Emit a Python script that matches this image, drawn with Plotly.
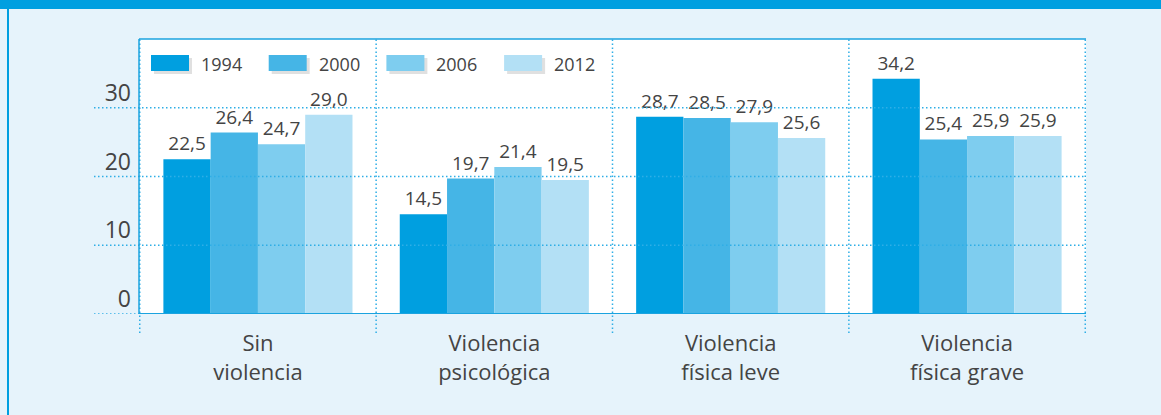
import plotly.graph_objects as go

categories = ["Sin<br>violencia", "Violencia<br>psicológica", "Violencia<br>física leve", "Violencia<br>física grave"]
years = ["1994", "2000", "2006", "2012"]
v1994 = [22.5, 14.5, 28.7, 34.2]
v2000 = [26.4, 19.7, 28.5, 25.4]
v2006 = [24.7, 21.4, 27.9, 25.9]
v2012 = [29.0, 19.5, 25.6, 25.9]
series = [v1994, v2000, v2006, v2012]
colors = ["#009FE0", "#45B5E6", "#7ECDEF", "#B3E0F5"]
yticks = [0, 10, 20, 30]

FONT = "Open Sans"
TXT = "#444444"
BLUE = "#1BA3DF"
DOT = "#2FAEE6"
DASH = "1.5px,2.5px"

fig = go.Figure()
for name, vals, col in zip(years, series, colors):
    fig.add_trace(go.Bar(
        x=categories, y=vals, name=name, marker=dict(color=col, line=dict(width=0)),
        texttemplate="%{y:.1f}", textposition="outside", cliponaxis=False,
        textfont=dict(family=FONT, size=19, color=TXT), showlegend=False,
    ))

W, H = 1161, 415
L, R, T, B = 139, 75, 39, 101
pw, ph = W - L - R, H - T - B

def px_x(p):
    return (p - L) / pw

def px_y(p):
    return (H - B - p) / ph

shapes = []
# top band
shapes.append(dict(type="rect", xref="paper", yref="paper", x0=px_x(-2), x1=px_x(W + 2), y0=px_y(9), y1=px_y(-2),
                   fillcolor="#009FE0", line=dict(width=0), layer="below"))
# left frame line
shapes.append(dict(type="line", xref="paper", yref="paper", x0=px_x(8), x1=px_x(8), y0=px_y(9), y1=px_y(H + 2),
                   line=dict(color="#009FE0", width=2), layer="below"))
# horizontal dotted gridlines
for t in yticks:
    shapes.append(dict(type="line", xref="paper", yref="y", x0=px_x(94), x1=1 if t > 0 else 0, y0=t, y1=t,
                       line=dict(color=DOT, width=1.5, dash=DASH), layer="above" if t > 0 else "below"))
# vertical dotted category separators
for i in range(len(categories) + 1):
    xv = i - 0.5
    shapes.append(dict(type="line", xref="x", yref="paper", x0=xv, x1=xv, y0=px_y(333), y1=1,
                       line=dict(color=DOT, width=1.5, dash=DASH), layer="below"))
# frame: left solid, top solid, bottom axis solid
shapes.append(dict(type="line", xref="paper", yref="paper", x0=0, x1=0, y0=0, y1=1, line=dict(color=BLUE, width=1.5)))
shapes.append(dict(type="line", xref="paper", yref="paper", x0=0, x1=1, y0=1, y1=1, line=dict(color=BLUE, width=1.5)))
shapes.append(dict(type="line", xref="paper", yref="y", x0=0, x1=1, y0=0, y1=0, line=dict(color=BLUE, width=2)))

annotations = []
# custom legend
for i, (name, col) in enumerate(zip(years, colors)):
    x0 = 151 + i * 117.7
    shapes.append(dict(type="rect", xref="paper", yref="paper", x0=px_x(x0 + 3), x1=px_x(x0 + 41),
                       y0=px_y(74), y1=px_y(58), fillcolor="rgba(0,0,0,0.12)", line=dict(width=0)))
    shapes.append(dict(type="rect", xref="paper", yref="paper", x0=px_x(x0), x1=px_x(x0 + 38),
                       y0=px_y(71), y1=px_y(55), fillcolor=col, line=dict(width=0)))
    annotations.append(dict(xref="paper", yref="paper", x=px_x(x0 + 48), y=px_y(64), text=name,
                            showarrow=False, xanchor="left", yanchor="middle",
                            font=dict(family=FONT, size=18, color=TXT)))

fig.update_layout(
    width=W, height=H, margin=dict(l=L, r=R, t=T, b=B),
    paper_bgcolor="#E6F3FB", plot_bgcolor="white",
    separators=",.",
    barmode="group", bargap=0.2, bargroupgap=0,
    shapes=shapes, annotations=annotations,
    font=dict(family=FONT, color=TXT),
)
fig.update_xaxes(showgrid=False, zeroline=False, showline=False, ticks="",
                 tickfont=dict(family=FONT, size=22, color=TXT), ticklabelstandoff=14)
fig.update_yaxes(range=[0, 40], tickvals=yticks, showgrid=False, zeroline=False, showline=False, ticks="",
                 tickfont=dict(family=FONT, size=23, color=TXT), ticklabelshift=-15, ticklabelstandoff=7)

fig.write_html("out.html", config={"displayModeBar": False},
               post_script="document.body.style.margin='0';document.body.style.overflow='hidden';")
